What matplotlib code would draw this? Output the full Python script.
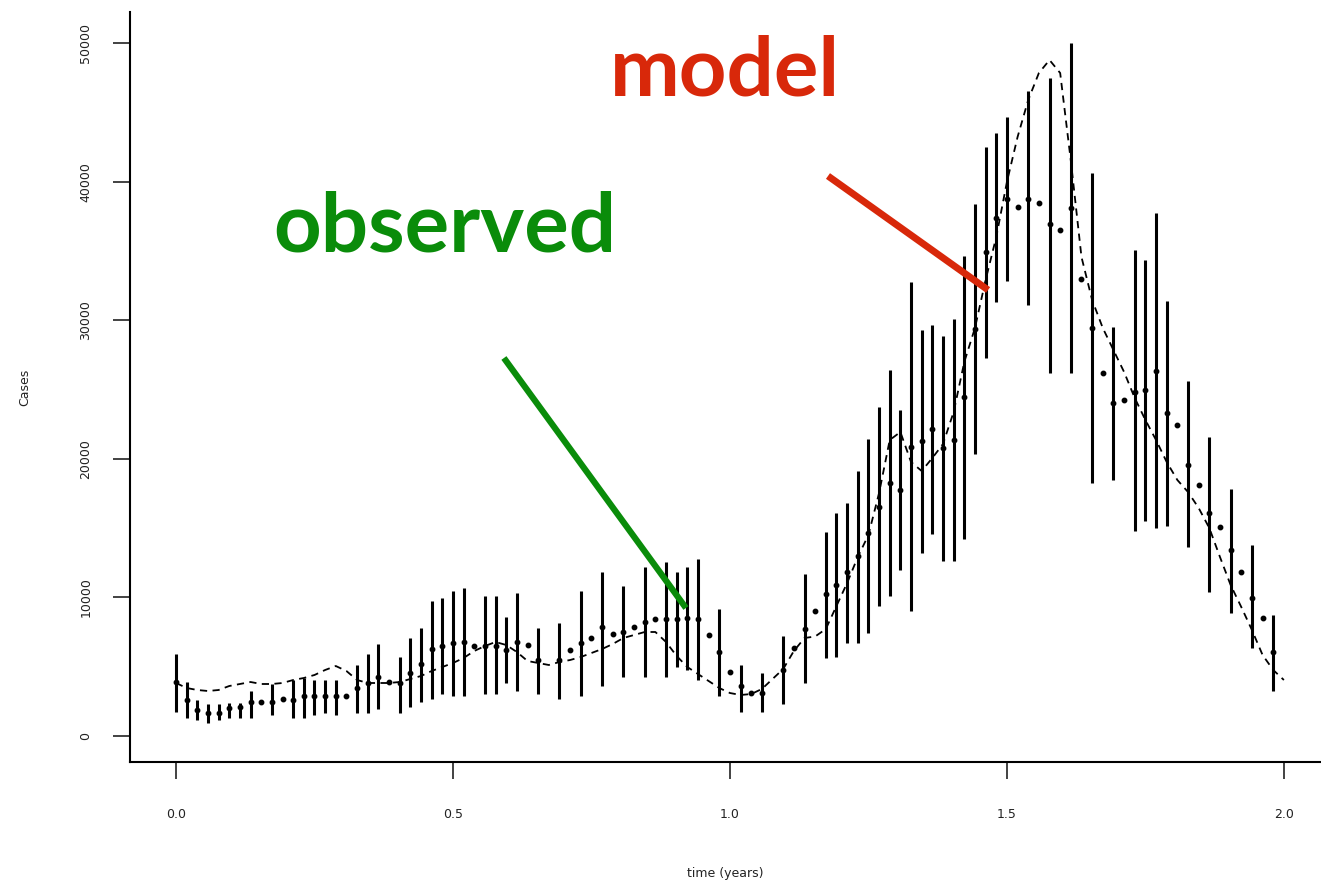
import numpy as np
import matplotlib
matplotlib.use("Agg")
import matplotlib.pyplot as plt

nan = np.nan

# Weekly data (week index -> time in years = week / 52):
obs_cases = [3918, 2600, 1876, 1681, 1660, 2020, 2092, 2475, 2430, 2430,
             2650, 2597, 2886, 2886, 2886, 2886, 2886, 3485, 3846, 4278,
             3918, 3846, 4524, 5173, 6255, 6494, 6710, 6804, 6494, 6494,
             6494, 6205, 6804, 6566, 5483, nan, 5483, 6205, 6688, 7092,
             7843, 7338, 7525, 7843, 8247, 8442, 8442, 8442, 8492, 8442,
             7287, 6061, 4618, 3629, 3081, 3081, nan, 4762, 6328, 7698,
             9019, 10245, 10895, 11833, 13009, 14668, 16558, 18254, 17749, 20873,
             21263, 22129, 20758, 21356, 24437, 29400, 34921, 37396, 38745, 38190,
             38745, 38435, 36920, 36508, 38074, 33000, 29416, 26169, 24004, 24242,
             24841, 24964, 26357, 23283, 22439, 19553, 18110, 16068, 15058, 13420,
             11854, 9935, 8492, 6082]

bar_hi = [5895, 3918, 2600, 2287, 2287, 2381, 2381, 3247, nan, 3730,
          nan, 4040, 4206, 4040, 4040, 4040, nan, 5123, 5895, 6616,
          nan, 5721, 7049, 7771, 9740, 9935, 10483, 10656, nan, 10101,
          10101, 8564, 10339, nan, 7814, nan, 8175, nan, 10483, nan,
          11811, nan, 10844, nan, 12215, nan, 12576, 11811, 12215, 12771,
          nan, 9142, nan, 5123, nan, 4524, nan, 7215, nan, 11667,
          nan, 14740, 16068, 16833, 19141, 21429, 23759, 26407, 23521, 32734,
          29293, 29654, 28882, 30065, 34654, 38362, 42518, 43485, 44640, nan,
          46537, nan, 47498, nan, 49980, nan, 40598, nan, 29488, nan,
          35065, 34343, 37734, 31407, nan, 25635, nan, 21595, nan, 17800,
          nan, 13781, nan, 8730]

bar_lo = [1710, 1320, 1154, 960, 1154, 1320, 1320, 1320, nan, 1515,
          nan, 1320, 1320, 1515, 1681, 1515, nan, 1681, 1681, 1926,
          nan, 1681, 2114, 2475, 2648, 3009, 2886, 2886, nan, 3030,
          3030, 3802, 3268, nan, 3030, nan, 2648, nan, 2886, nan,
          3629, nan, 4278, nan, 4278, nan, 4278, 5000, 4762, 4040,
          nan, 2886, nan, 1710, nan, 1710, nan, 2309, nan, 3802,
          nan, 5606, 5721, 6688, 6688, 7453, 9380, 10101, 11977, 9019,
          13225, 14574, 12626, 12648, 14192, 20346, 27251, 31335, 32850, nan,
          31097, nan, 26169, nan, 26169, nan, 18232, nan, 18470, nan,
          14790, 15534, 14986, 15152, nan, 13658, nan, 10411, nan, 8853,
          nan, 6328, nan, 3268]

model_cases = [3824, 3463, 3319, 3247, 3319, 3607, 3752, 3896, 3752, 3752,
               3824, 4040, 4185, 4401, 4762, 5050, 4690, 4040, 3824, 3824,
               3824, 3896, 4113, 4329, 4690, 4978, 5267, 5628, 6133, 6494,
               6782, 6566, 6061, 5411, 5267, 5123, 5339, 5483, 5700, 5988,
               6277, 6638, 7071, 7287, 7504, 7504, 6782, 5772, 4978, 4473,
               3968, 3463, 3102, 2958, 3030, 3391, 4113, 4834, 6133, 7071,
               7179, 7720, 9380, 11039, 12915, 14502, 17532, 21356, 21933, 19769,
               19120, 20058, 21068, 23377, 26984, 29437, 32900, 36003, 39971, 43218,
               45887, 47835, 48773, 47835, 41500, 34560, 31457, 29437, 27850, 26262,
               24387, 22800, 21356, 19769, 18470, 17605, 16450, 15007, 12915, 10895,
               9307, 7648, 5844, 4762, 4040]

t_obs = np.arange(len(obs_cases)) / 52
t_model = np.arange(len(model_cases)) / 52
obs_cases = np.array(obs_cases, dtype=float)
bar_hi = np.array(bar_hi, dtype=float)
bar_lo = np.array(bar_lo, dtype=float)
has_bar = ~np.isnan(bar_hi)

# Plot:
fig = plt.figure(figsize=(13.21, 8.8), dpi=100)
ax = fig.add_axes([130 / 1321, 118 / 880, 1 - 130 / 1321, 750 / 880])

ax.vlines(t_obs[has_bar], bar_lo[has_bar], bar_hi[has_bar], color='black', lw=2.2)
ax.plot(t_obs, obs_cases, 'o', color='black', ms=3.2)
ax.plot(t_model, model_cases, color='black', lw=1.3, dashes=(4, 3))

ax.set_xlim(-0.083, 2.067)
ax.set_ylim(-1876, 52237)
ax.set_xticks([0.0, 0.5, 1.0, 1.5, 2.0])
ax.set_xticklabels(['0.0', '0.5', '1.0', '1.5', '2.0'])
ax.set_yticks([0, 10000, 20000, 30000, 40000, 50000])
ax.set_yticklabels(['0', '10000', '20000', '30000', '40000', '50000'],
                   rotation=90, va='center')
ax.tick_params(length=12, width=1.2, labelsize=9, colors='#222222')
ax.tick_params(axis='x', pad=21)
ax.tick_params(axis='y', pad=15)
ax.spines['top'].set_visible(False)
ax.spines['right'].set_visible(False)
ax.spines['left'].set_linewidth(1.5)
ax.spines['bottom'].set_linewidth(1.5)
ax.set_xlabel('time (years)', fontsize=9, labelpad=33, color='#222222')
ax.set_ylabel('Cases', fontsize=9, labelpad=35, color='#222222')

# Annotations:
red = '#D8280A'
green = '#0A8C0A'
ax.plot([1.177, 1.466], [40404, 32180], color=red, lw=5, solid_capstyle='butt')
ax.plot([0.592, 0.9206], [27273, 9235], color=green, lw=4.5, solid_capstyle='butt')
fig.text(725 / 1321, 1 - 95 / 880, 'model', color=red, fontsize=60,
         fontweight='bold', family=['Lato', 'DejaVu Sans'], ha='center', va='baseline')
fig.text(445 / 1321, 1 - 252 / 880, 'observed', color=green, fontsize=60,
         fontweight='bold', family=['Lato', 'DejaVu Sans'], ha='center', va='baseline')

fig.savefig('out.png', dpi=100)
plt.close(fig)
